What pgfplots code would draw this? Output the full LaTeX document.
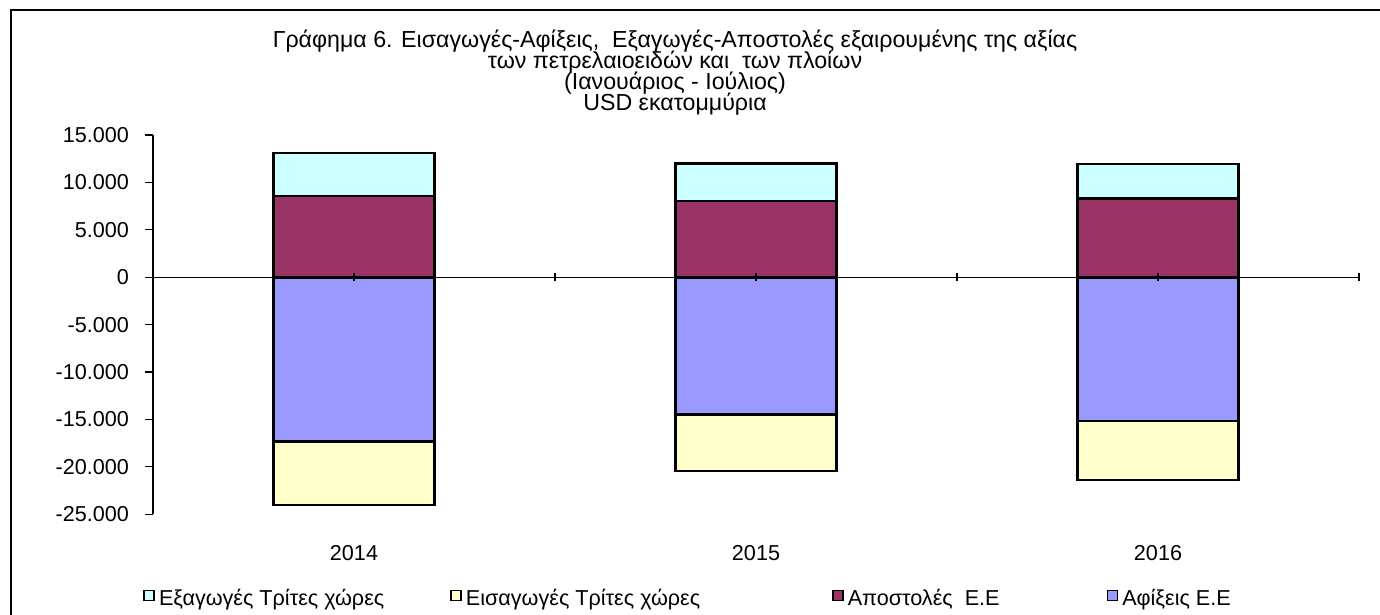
\documentclass[border=0pt]{standalone}
\usepackage{fontspec}
\setmainfont{Liberation Sans}
\usepackage{pgfplots}
\pgfplotsset{compat=1.18}

\definecolor{expC}{RGB}{204,255,255}
\definecolor{impC}{RGB}{255,255,204}
\definecolor{apoC}{RGB}{153,51,102}
\definecolor{afiC}{RGB}{153,153,255}

\pgfplotsset{
  common/.style={
    at={(76.5pt,50.35pt)}, anchor=south west,
    scale only axis, width=603pt, height=189.6pt,
    xmin=-0.5, xmax=2.5, ymin=-25000, ymax=15000,
    ybar stacked, bar width=80.5pt,
  },
  barst/.style={draw=black, line width=1.3pt, forget plot},
}
\newcommand{\titlefont}{\fontsize{11.6}{10.5}\selectfont\lineskiplimit=-20pt\relax}

\begin{document}
\begin{tikzpicture}
\path[use as bounding box] (0pt,0pt) rectangle (690pt,307.5pt);
\draw[line width=1.4pt] (5.5pt,-5pt) -- (5.5pt,302.5pt) -- (700pt,302.5pt);

\node[align=center, font=\titlefont] at (337.5pt,271pt)
  {Γράφημα 6. Εισαγωγές-Αφίξεις,\ \ Εξαγωγές-Αποστολές εξαιρουμένης της αξίας\\
   των πετρελαιοειδών και\ \ των πλοίων\\
   (Ιανουάριος - Ιούλιος)\\
   USD εκατομμύρια};

% negative side: arrivals EU, imports third countries
\begin{axis}[common, hide axis]
\addplot[barst, fill=afiC] coordinates {(0,-17340) (1,-14450) (2,-15160)};
\addplot[barst, fill=impC] coordinates {(0,-6660) (1,-5980) (2,-6220)};
\end{axis}

% positive side: dispatches EU, exports third countries
\begin{axis}[common,
  axis on top,
  axis y line=left, axis x line=middle,
  axis line style={-, line width=0.6pt},
  hide obscured y ticks=false,
  tick align=center, major tick length=4pt,
  ytick={-25000,-20000,...,15000},
  ytick style={black, line width=0.6pt, xshift=-2pt},
  scaled y ticks=false,
  /pgf/number format/1000 sep={.},
  /pgf/number format/assume math mode=true,
  yticklabel style={font=\fontsize{10.8}{13}\selectfont, xshift=-6.5pt},
  xtick={0,1,2}, xticklabels={2014,2015,2016},
  extra x ticks={0.5,1.5,2.5}, extra x tick labels={},
  xtick style={black, line width=0.6pt},
  xticklabel style={font=\fontsize{10.8}{13}\selectfont, anchor=center, yshift=-135.8pt},
  legend columns=4,
  legend style={draw=none, fill=none, at={(0,0)}, anchor=west,
    xshift=-5pt, yshift=-42.3pt, inner sep=0pt,
    font=\fontsize{10.8}{13}\selectfont,
    /tikz/column 2/.style={column sep=31pt},
    /tikz/column 4/.style={column sep=64pt},
    /tikz/column 6/.style={column sep=51.5pt}},
]
\addplot[barst, fill=apoC] coordinates {(0,8580) (1,8050) (2,8330)};
\addplot[barst, fill=expC] coordinates {(0,4530) (1,3980) (2,3620)};

\addlegendimage{legend image code/.code={\draw[fill=expC, draw=black, line width=0.8pt] (0,-0.8pt) rectangle (5pt,4.2pt);}}
\addlegendentry{Εξαγωγές Τρίτες χώρες}
\addlegendimage{legend image code/.code={\draw[fill=impC, draw=black, line width=0.8pt] (0,-0.8pt) rectangle (5pt,4.2pt);}}
\addlegendentry{Εισαγωγές Τρίτες χώρες}
\addlegendimage{legend image code/.code={\draw[fill=apoC, draw=black, line width=0.8pt] (0,-0.8pt) rectangle (5pt,4.2pt);}}
\addlegendentry{Αποστολές\ \ Ε.Ε}
\addlegendimage{legend image code/.code={\draw[fill=afiC, draw=black, line width=0.8pt] (0,-0.8pt) rectangle (5pt,4.2pt);}}
\addlegendentry{Αφίξεις Ε.Ε}
\end{axis}
\end{tikzpicture}
\end{document}
